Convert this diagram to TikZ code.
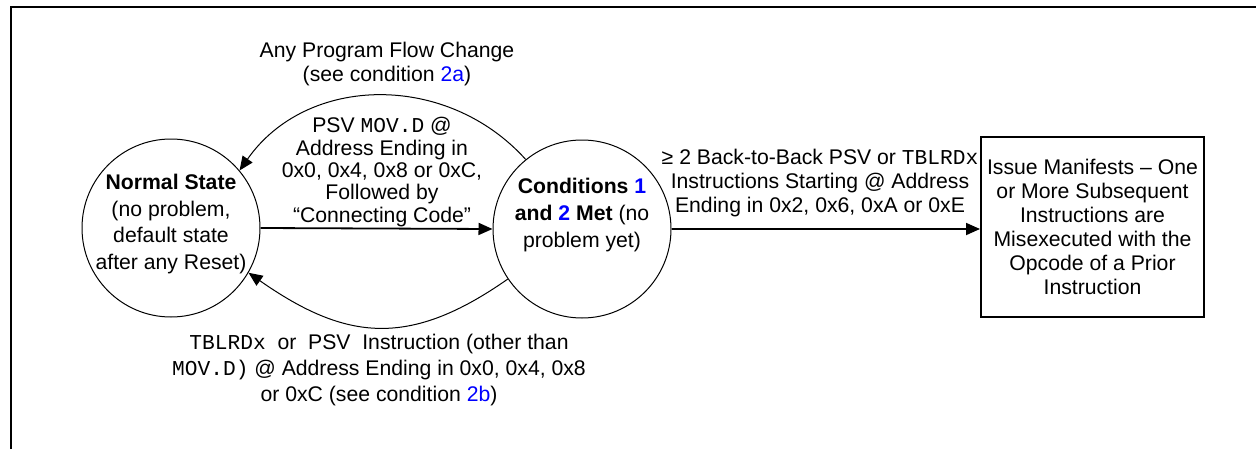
\documentclass[tikz,border=0pt]{standalone}
\usepackage{fontspec}
\setmainfont{Liberation Sans}
\setmonofont{Liberation Mono}
\usepackage{xcolor}
\usepackage{tikz}
\usetikzlibrary{arrows.meta,positioning,calc}
\newcommand{\cd}[1]{\texttt{#1}}
\newcommand{\bl}[1]{\textcolor{blue}{#1}}

\begin{document}
\begin{tikzpicture}[x=0.5pt, y=-0.5pt,
  every node/.style={font=\fontsize{10.6}{12}\selectfont, align=center, inner sep=0pt},
  state/.style={draw, circle, line width=0.5pt, minimum size=89pt},
  statetxt/.style={font=\fontsize{10.6}{13.3}\selectfont},
  issuebox/.style={draw, line width=1pt, minimum width=111.5pt, minimum height=90pt},
  trans/.style={line width=0.9pt, -{Triangle[length=7pt,width=6pt]}},
  loopback/.style={line width=0.5pt, -{Triangle[length=7pt,width=6pt]}}]
\useasboundingbox (0,0) rectangle (1256,449);
\draw[line width=1pt] (11,449) -- (11,7) -- (1256,7);
\node[state] (normal) at (171,228) {};
\node[statetxt] (normaltxt) at ($(normal)+(0,-4)$) {\textbf{Normal State}\\(no problem,\\default state\\after any Reset)};
\node[state] (cond) at (582,229) {};
\node[statetxt] (condtxt) at ($(cond)+(0,-14)$) {\textbf{Conditions \bl{1}}\\\textbf{and \bl{2} Met} (no\\problem yet)};
\node[issuebox] (issue) at (1092.5,227) {Issue Manifests -- One\\or More Subsequent\\Instructions are\\Misexecuted with the\\Opcode of a Prior\\Instruction};
% transitions
\draw[trans] (normal.east) -- (cond.west);
\draw[trans] (cond.east) -- (cond.east -| issue.west);
\draw[loopback] (cond.129) to[out=132, in=55, looseness=1.05] (normal.40);
\draw[loopback] (cond.214) to[out=215, in=325, looseness=1.18] (normal.330);
\node (lblflow) at (387,64) {Any Program Flow Change\\(see condition \bl{2a})};
\node[font=\fontsize{10.6}{11.2}\selectfont] (lblpsv) at (382,172) {PSV \cd{MOV.D} @\\Address Ending in\\0x0, 0x4, 0x8 or 0xC,\\Followed by\\“Connecting Code”};
\node (lblback) at (820,183) {≥ 2 Back-to-Back PSV or \cd{TBLRDx}\\Instructions Starting @ Address\\Ending in 0x2, 0x6, 0xA or 0xE};
\node[font=\fontsize{10.6}{13}\selectfont] (lbltbl) at (379,370) {\cd{TBLRDx}\ \ or\ \ PSV\ \ Instruction (other than\\\cd{MOV.D)} @ Address Ending in 0x0, 0x4, 0x8\\or 0xC (see condition \bl{2b})};
\end{tikzpicture}
\end{document}
